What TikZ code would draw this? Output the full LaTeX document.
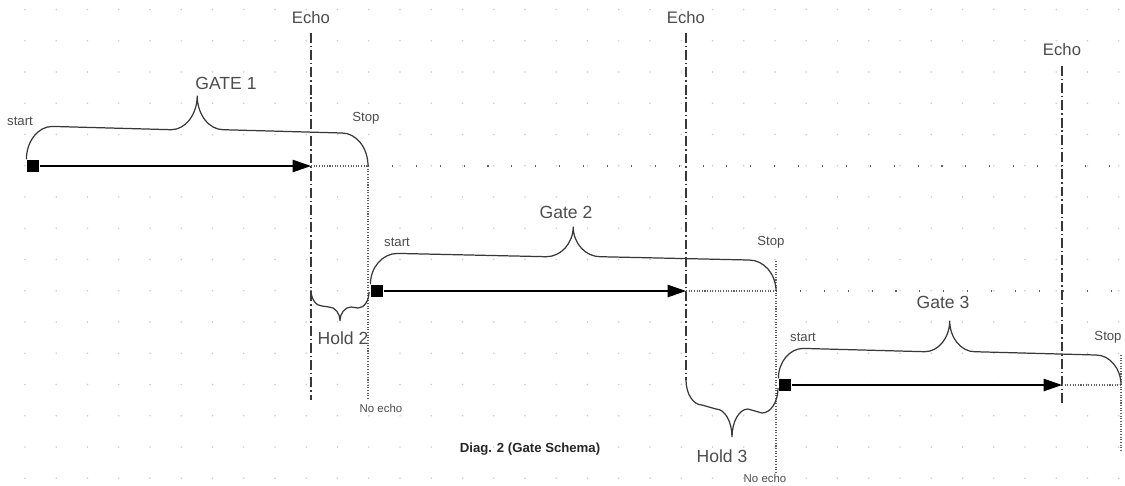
\documentclass[tikz,border=0pt]{standalone}
\usepackage{fontspec}
\setmainfont{Liberation Sans}
\usetikzlibrary{arrows.meta, positioning, calc}
\definecolor{LineGray}{rgb}{0.22, 0.22, 0.22}
\definecolor{TextGray}{rgb}{0.30, 0.30, 0.30}
\definecolor{GridGray}{rgb}{0.80, 0.80, 0.80}

\begin{document}
\begin{tikzpicture}[
    x=0.02cm, y=-0.02cm,
    font=\fontsize{9.5}{11}\selectfont,
    startbox/.style={fill=black, inner sep=0pt, minimum size=0.25cm},
    flow/.style={-{Triangle[length=0.37cm, width=0.25cm]}, line width=0.7pt, black},
    echoline/.style={LineGray, line width=0.6pt,
        dash pattern=on 5.6pt off 1.7pt on 0.8pt off 1.7pt},
    stopline/.style={LineGray!80, line width=0.6pt, dash pattern=on 0.6pt off 0.9pt},
    trail/.style={LineGray!80, line width=0.7pt, dash pattern=on 0.6pt off 13pt},
    brc/.style={LineGray, line width=0.7pt},
    % #1 tip, #2 shoulder, #3 curl width
    bracket/.style n args={3}{to path={
        let \p1=(\tikztostart), \p2=(\tikztotarget), \p3=($(\p1)!.5!(\p2)$) in
        (\p1) .. controls ($(\p1)+(0,{0.55*(#2)})$) and ($(\p1)+({0.45*(#3)},{#2})$)
              .. ($(\p1)+({#3},{#2})$)
        -- ($(\p3)+({-(#3)},{#2})$)
           .. controls ($(\p3)+({-0.45*(#3)},{#2})$) and ($(\p3)+(0,{(#2)+0.45*((#1)-(#2))})$)
           .. ($(\p3)+(0,{#1})$)
           .. controls ($(\p3)+(0,{(#2)+0.45*((#1)-(#2))})$) and ($(\p3)+({0.45*(#3)},{#2})$)
           .. ($(\p3)+({#3},{#2})$)
        -- ($(\p2)+({-(#3)},{#2})$)
           .. controls ($(\p2)+({-0.45*(#3)},{#2})$) and ($(\p2)+(0,{0.55*(#2)})$) .. (\p2)
    }},
    lbl/.style={text=TextGray, inner sep=1pt},
    gatelbl/.style={text=TextGray, inner sep=1pt, font=\fontsize{10}{12}\selectfont},
    small/.style={text=TextGray, inner sep=1pt, font=\fontsize{7.5}{9}\selectfont},
    tiny/.style={text=TextGray, inner sep=1pt, font=\fontsize{6.5}{8}\selectfont},
]
\useasboundingbox (0,0) rectangle (1125,485);

% ============ grid ============
\foreach \gx in {0,...,35}
  \foreach \gy in {0,...,15}
    \fill[GridGray] (25+31.25*\gx, 9.5+31.25*\gy) circle (0.55pt);

% ============ GATE 1 ============
\node[startbox] (s1) at (33,166) {};
\coordinate (e1) at (311,33);   \coordinate (e1b) at (311,400);
\coordinate (x1) at (311,166);
\coordinate (t1) at (368,166);  \coordinate (t1b) at (368,400);
\coordinate (r1) at (1112,166);
\draw[echoline] (e1) -- (e1b);
\draw[stopline] (t1) -- (t1b);
\draw[stopline] (x1) -- (t1);
\draw[trail] (t1) -- (r1);
\draw[flow] (s1) -- (x1);
\draw[brc] (s1.north west) to[bracket={-67}{-33}{26}] (t1);
\node[lbl] at (311,18) {Echo};
\node[gatelbl] at (226,83) {GATE 1};
\node[small] at (20,121) {start};
\node[small] at (366,118) {Stop};
\node[tiny] at (381,408) {No echo};

% ============ Gate 2 ============
\node[startbox] (s2) at (377,291) {};
\coordinate (e2) at (686,33);   \coordinate (e2b) at (686,380);
\coordinate (x2) at (686,291);
\coordinate (t2) at (776,291);  \coordinate (t2a) at (776,261);
\coordinate (t2b) at (776,474);
\coordinate (r2) at (1112,291);
\draw[echoline] (e2) -- (e2b);
\draw[stopline] (t2a) -- (t2b);
\draw[stopline] (x2) -- (t2);
\draw[trail] (t2) -- (r2);
\draw[flow] (s2) -- (x2);
\draw[brc] (s2.north west) to[bracket={-61}{-31}{27}] (t2);
\node[lbl] at (686,18) {Echo};
\node[gatelbl] at (566,212) {Gate 2};
\node[small] at (397,242) {start};
\node[small] at (771,242) {Stop};
\node[tiny] at (765,478) {No echo};

% hold 2
\coordinate (h2a) at (311,290);
\coordinate (h2b) at (369,292);
\draw[brc] (h2a) to[bracket={30}{16}{11}] (h2b);
\node[gatelbl] at (343,338) {Hold 2};

% ============ Gate 3 ============
\node[startbox] (s3) at (785,385) {};
\coordinate (e3) at (1062,66);  \coordinate (e3b) at (1062,405);
\coordinate (x3) at (1062,385);
\coordinate (t3) at (1121,385); \coordinate (t3a) at (1121,355);
\coordinate (t3b) at (1121,452);
\draw[echoline] (e3) -- (e3b);
\draw[stopline] (t3a) -- (t3b);
\draw[stopline] (x3) -- (t3);
\draw[flow] (s3) -- (x3);
\draw[brc] (s3.north west) to[bracket={-61}{-30}{25}] (t3);
\node[lbl] at (1062,50) {Echo};
\node[gatelbl] at (943,302) {Gate 3};
\node[small] at (803,337) {start};
\node[small] at (1108,337) {Stop};

% hold 3
\coordinate (h3a) at (686,380);
\coordinate (h3b) at (778,388);
\draw[brc] (h3a) to[bracket={53}{25}{16}] (h3b);
\node[gatelbl] at (722,456) {Hold 3};

% ============ caption ============
\node[font=\fontsize{7.5}{9}\selectfont\bfseries, text=black!85] (cap) at (530,449)
    {Diag. 2 (Gate Schema)};

\end{tikzpicture}
\end{document}
